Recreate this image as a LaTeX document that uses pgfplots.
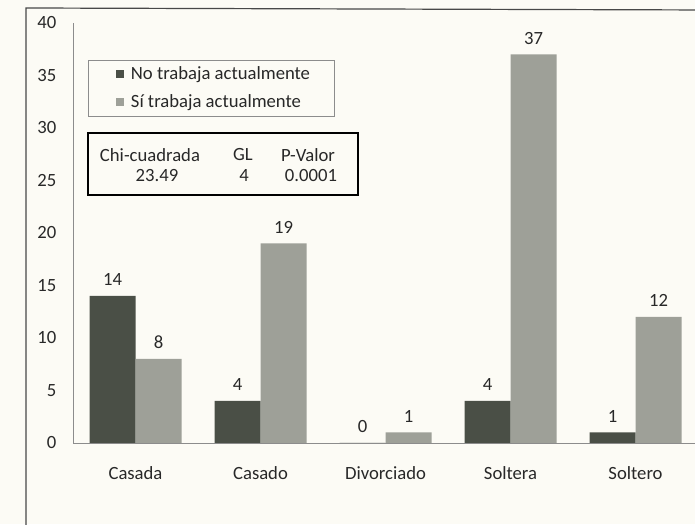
\documentclass[border=0pt]{standalone}
\usepackage{pgfplots}
\pgfplotsset{compat=1.18}
\usepackage{fontspec}
\setmainfont{Carlito}

\definecolor{paper}{RGB}{252,251,245}
\definecolor{darkbar}{RGB}{74,79,70}
\definecolor{lightbar}{RGB}{158,160,152}
\definecolor{ink}{RGB}{40,40,40}
\definecolor{axisgray}{RGB}{140,140,140}

\newcommand{\lbl}{\fontsize{14}{17}\selectfont}

% small square swatch for the legend, with some room on its left
\pgfplotsset{sq legend/.style={legend image code/.code={%
  \path (0pt,0pt);
  \fill[##1] (8pt,-3pt) rectangle (14pt,3pt);}}}

\begin{document}
\begin{tikzpicture}
\useasboundingbox (0,0) rectangle (521.25pt,393pt);
\fill[paper] (0,0) rectangle (521.25pt,393pt);
\clip (0,0) rectangle (521.25pt,393pt);

% outer frame (only left and top edges fall on the page)
\begin{scope}[x=0.75pt,y=-0.75pt,yshift=393pt]
  \draw[ink!85, line width=0.9pt] (26,540) -- (26,8) -- (710,10);
\end{scope}

\begin{axis}[
  at={(54.75pt,60.75pt)}, anchor=south west,
  scale only axis, width=468.75pt, height=315pt,
  xmin=-0.5, xmax=4.5, ymin=0, ymax=40,
  ybar=0pt, bar width=34.5pt,
  axis x line*=bottom, axis y line*=left,
  axis line style={-, draw=axisgray, line width=0.6pt},
  major tick length=0pt,
  ytick={0,5,...,40},
  xtick={0,1,2,3,4},
  xticklabels={Casada,Casado,Divorciado,Soltera,Soltero},
  tick label style={font=\lbl, text=ink},
  /pgf/number format/assume math mode=true,
  yticklabel style={xshift=-9pt},
  xticklabel style={yshift=-14pt},
  nodes near coords,
  every node near coord/.append style={font=\lbl, text=ink, yshift=4pt},
  legend style={at={(0.024,0.912)}, anchor=north west,
    draw=axisgray, fill=paper, font=\lbl, text=ink,
    inner xsep=13pt, inner ysep=3pt, row sep=5.5pt,
    nodes={inner xsep=5pt}},
  legend cell align=left,
]
\addplot[fill=darkbar, draw=none, sq legend]
  coordinates {(0,14) (1,4) (2,0) (3,4) (4,1)};
\addplot[fill=lightbar, draw=none, sq legend]
  coordinates {(0,8) (1,19) (2,1) (3,37) (4,12)};
\legend{No trabaja actualmente, Sí trabaja actualmente}
\end{axis}

% statistics box
\begin{scope}[x=0.75pt,y=-0.75pt,yshift=393pt]
  \draw[black, line width=1.4pt, fill=paper] (88,133) rectangle (358,195);
  \node[font=\lbl, text=ink] at (150,155) {Chi-cuadrada};
  \node[font=\lbl, text=ink] at (243,155) {GL};
  \node[font=\lbl, text=ink] at (308,155) {P-Valor};
  \node[font=\lbl, text=ink] at (157,176) {23.49};
  \node[font=\lbl, text=ink] at (244,176) {4};
  \node[font=\lbl, text=ink] at (311,176) {0.0001};
\end{scope}
\end{tikzpicture}
\end{document}
